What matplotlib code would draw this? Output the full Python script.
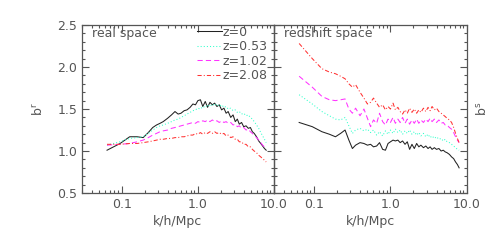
import numpy as np
import matplotlib
matplotlib.use('Agg')
import matplotlib.pyplot as plt
from matplotlib.ticker import FixedLocator, FixedFormatter, MultipleLocator, LogLocator, NullFormatter

# wavenumbers k [h/Mpc], shared by all curves
k = [0.064, 0.095, 0.127, 0.159, 0.191, 0.223, 0.255, 0.286, 0.318, 0.35,
     0.40, 0.45, 0.50, 0.55, 0.60, 0.66, 0.72, 0.79, 0.86, 0.93,
     1.0, 1.08, 1.16, 1.25, 1.34, 1.44, 1.55, 1.66, 1.78, 1.91,
     2.05, 2.2, 2.35, 2.5, 2.7, 2.9, 3.1, 3.3, 3.5, 3.75,
     4.0, 4.3, 4.6, 4.9, 5.2, 5.5, 5.9, 6.3, 6.7, 7.1, 7.5, 7.9]

# real space bias b^r
real_z0 = [1.01, 1.09, 1.17, 1.17, 1.16, 1.22, 1.28, 1.31, 1.33, 1.35,
           1.39, 1.43, 1.47, 1.44, 1.45, 1.48, 1.49, 1.52, 1.56, 1.55,
           1.60, 1.61, 1.53, 1.59, 1.52, 1.58, 1.55, 1.57, 1.53, 1.55,
           1.49, 1.51, 1.45, 1.47, 1.40, 1.43, 1.35, 1.38, 1.32, 1.34,
           1.29, 1.30, 1.27, 1.28, 1.23, 1.21, 1.17, 1.12, 1.09, 1.06, 1.03, 1.01]
real_z053 = [1.07, 1.11, 1.15, 1.16, 1.17, 1.21, 1.25, 1.28, 1.30, 1.31,
             1.33, 1.35, 1.37, 1.38, 1.40, 1.42, 1.44, 1.46, 1.48, 1.49,
             1.51, 1.50, 1.53, 1.52, 1.55, 1.53, 1.56, 1.54, 1.56, 1.53,
             1.55, 1.52, 1.53, 1.50, 1.51, 1.48, 1.49, 1.46, 1.47, 1.44,
             1.45, 1.42, 1.43, 1.40, 1.38, 1.35, 1.31, 1.27, 1.22, 1.18, 1.14, 1.10]
real_z102 = [1.07, 1.08, 1.09, 1.11, 1.13, 1.16, 1.19, 1.21, 1.23, 1.24,
             1.25, 1.27, 1.28, 1.29, 1.30, 1.31, 1.32, 1.33, 1.34, 1.33,
             1.35, 1.34, 1.36, 1.35, 1.37, 1.35, 1.37, 1.35, 1.36, 1.34,
             1.36, 1.34, 1.35, 1.33, 1.34, 1.31, 1.32, 1.29, 1.30, 1.27,
             1.28, 1.25, 1.26, 1.23, 1.21, 1.19, 1.16, 1.13, 1.10, 1.07, 1.05, 1.03]
real_z208 = [1.08, 1.08, 1.09, 1.09, 1.10, 1.11, 1.12, 1.13, 1.14, 1.14,
             1.15, 1.15, 1.16, 1.16, 1.17, 1.17, 1.18, 1.19, 1.19, 1.21,
             1.20, 1.22, 1.20, 1.22, 1.21, 1.23, 1.21, 1.23, 1.21, 1.22,
             1.20, 1.21, 1.18, 1.19, 1.16, 1.17, 1.14, 1.14, 1.11, 1.11,
             1.08, 1.08, 1.05, 1.05, 1.02, 1.00, 0.98, 0.95, 0.93, 0.91, 0.89, 0.87]

# redshift space bias b^s
red_z0 = [1.34, 1.29, 1.23, 1.20, 1.17, 1.21, 1.25, 1.13, 1.03, 1.07,
          1.10, 1.09, 1.07, 1.08, 1.05, 1.06, 1.10, 1.02, 1.01, 1.09,
          1.11, 1.13, 1.12, 1.13, 1.10, 1.12, 1.08, 1.11, 1.02, 1.08,
          1.03, 1.09, 1.05, 1.07, 1.04, 1.06, 1.03, 1.05, 1.02, 1.04,
          1.02, 1.03, 1.00, 1.01, 0.99, 0.98, 0.96, 0.93, 0.91, 0.87, 0.84, 0.80]
red_z053 = [1.67, 1.56, 1.47, 1.42, 1.38, 1.37, 1.40, 1.30, 1.21, 1.25,
            1.27, 1.24, 1.26, 1.22, 1.25, 1.19, 1.23, 1.18, 1.24, 1.20,
            1.25, 1.21, 1.26, 1.22, 1.25, 1.20, 1.24, 1.21, 1.25, 1.20,
            1.23, 1.19, 1.22, 1.18, 1.21, 1.17, 1.20, 1.16, 1.18, 1.15,
            1.17, 1.14, 1.15, 1.12, 1.14, 1.11, 1.10, 1.08, 1.06, 1.04, 1.02, 1.01]
red_z102 = [1.89, 1.76, 1.65, 1.61, 1.60, 1.61, 1.62, 1.50, 1.45, 1.51,
            1.42, 1.50, 1.39, 1.29, 1.37, 1.33, 1.45, 1.35, 1.31, 1.38,
            1.34, 1.40, 1.33, 1.38, 1.34, 1.40, 1.33, 1.38, 1.32, 1.37,
            1.33, 1.38, 1.33, 1.37, 1.34, 1.38, 1.35, 1.39, 1.35, 1.38,
            1.34, 1.37, 1.33, 1.34, 1.31, 1.31, 1.28, 1.26, 1.22, 1.17, 1.13, 1.10]
red_z208 = [2.28, 2.10, 1.98, 1.94, 1.92, 1.89, 1.86, 1.80, 1.76, 1.79,
            1.70, 1.63, 1.56, 1.58, 1.63, 1.57, 1.52, 1.55, 1.49, 1.53,
            1.50, 1.57, 1.49, 1.52, 1.47, 1.44, 1.49, 1.45, 1.51, 1.46,
            1.50, 1.45, 1.49, 1.46, 1.51, 1.47, 1.52, 1.48, 1.53, 1.49,
            1.51, 1.47, 1.45, 1.43, 1.41, 1.39, 1.37, 1.34, 1.28, 1.21, 1.15, 1.10]

labels = ['z=0', 'z=0.53', 'z=1.02', 'z=2.08']
xticks = [0.1, 1.0, 10.0]
xticklabels = ['0.1', '1.0', '10.0']

colors = ['#222222', '#33ffcc', '#ff33ff', '#ff3333']
styles = ['-', (0, (1, 2)), (0, (5, 3)), (0, (4, 2, 1, 2))]
gray = '#555555'

plt.rcParams['font.family'] = 'DejaVu Sans'
fig = plt.figure(figsize=(4.91, 2.45), dpi=100)
ax1 = fig.add_axes([0.167, 0.212, 0.391, 0.686])
ax2 = fig.add_axes([0.558, 0.212, 0.393, 0.686])
ax2.set_facecolor('none')

for ax, series in [(ax1, [real_z0, real_z053, real_z102, real_z208]),
                   (ax2, [red_z0, red_z053, red_z102, red_z208])]:
    for y, c, ls, lab in zip(series, colors, styles, labels):
        ax.plot(k, y, color=c, ls=ls, lw=0.75, label=lab)
    ax.set_xscale('log')
    ax.set_xlim(0.03, 10)
    ax.set_ylim(0.5, 2.5)
    ax.xaxis.set_major_locator(FixedLocator(xticks))
    ax.xaxis.set_major_formatter(FixedFormatter(xticklabels))
    ax.xaxis.set_minor_locator(LogLocator(base=10, subs=np.arange(2, 10)))
    ax.xaxis.set_minor_formatter(NullFormatter())
    ax.yaxis.set_major_locator(MultipleLocator(0.5))
    ax.yaxis.set_minor_locator(MultipleLocator(0.1))
    ax.tick_params(which='both', direction='in', top=True, right=True,
                   colors=gray, labelsize=9, labelcolor=gray, width=0.8)
    ax.tick_params(which='major', length=5)
    ax.tick_params(which='minor', length=2.5)
    for s in ax.spines.values():
        s.set_color(gray)
        s.set_linewidth(0.9)
    ax.set_xlabel('k/h/Mpc', fontsize=9, color=gray, labelpad=3)

ax1.yaxis.set_major_formatter(plt.FormatStrFormatter('%.1f'))
ax1.set_ylabel(r'b$^\mathrm{r}$', fontsize=9, color=gray, labelpad=8)
ax2.tick_params(labelleft=False)
ax2.yaxis.set_label_position('right')
ax2.set_ylabel(r'b$^\mathrm{s}$', fontsize=9, color=gray, labelpad=6, rotation=90)

ax1.text(0.05, 0.95, 'real space', transform=ax1.transAxes, fontsize=9,
         color=gray, va='center', ha='left')
ax2.text(0.05, 0.95, 'redshift space', transform=ax2.transAxes, fontsize=9,
         color=gray, va='center', ha='left')

leg = ax1.legend(loc='upper left', bbox_to_anchor=(0.6, 0.995), frameon=False,
                 fontsize=9, handlelength=2.0, handletextpad=0.0,
                 labelspacing=0.12, borderpad=0, borderaxespad=0)
for t in leg.get_texts():
    t.set_color(gray)

fig.savefig('out.png', dpi=100)
plt.close()
